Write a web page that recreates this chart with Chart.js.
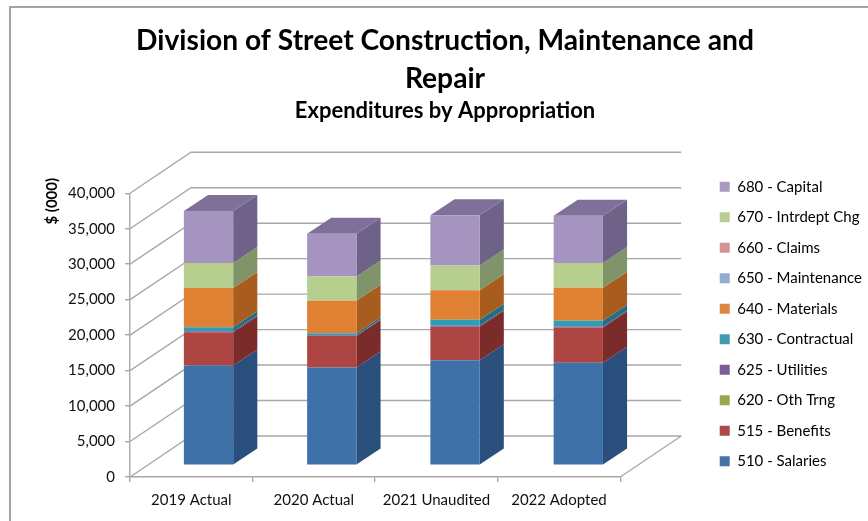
<!DOCTYPE html>
<html>
<head>
<meta charset="utf-8">
<title>Expenditures by Appropriation</title>
<script src="https://cdn.jsdelivr.net/npm/chart.js@4"></script>
<style>
  html, body { margin: 0; padding: 0; background: #fff; overflow: hidden; }
  #frame { position: absolute; left: 9px; top: 6px; width: 868px; height: 521px;
           border-top: 2px solid #a3a3a3; border-left: 2px solid #a3a3a3; }
  #chart { position: absolute; left: 18px; top: 0; }
</style>
</head>
<body>
<div id="frame"></div>
<canvas id="chart" width="857" height="521"></canvas>
<script>
'use strict';
/* global Chart */

// ─── Data ($ thousands) ───────────────────────────────────────────────────────
const categories = ['2019 Actual', '2020 Actual', '2021 Unaudited', '2022 Adopted'];

const salaries    = [14060, 13780, 14800, 14440];
const benefits    = [4700, 4440, 4720, 4990];
const othTrng     = [10, 10, 10, 10];
const utilities   = [120, 100, 130, 130];
const contractual = [570, 290, 840, 800];
const materials   = [5540, 4590, 4160, 4670];
const maintenance = [0, 0, 0, 0];
const claims      = [0, 0, 0, 0];
const intrdeptChg = [3500, 3400, 3500, 3460];
const capital     = [7330, 6030, 7100, 6690];

const yTicks = [0, 5000, 10000, 15000, 20000, 25000, 30000, 35000, 40000];

// ─── 3-D look ─────────────────────────────────────────────────────────────────
const WALL_DX = 61,  WALL_DY = 41;     // depth of the whole plot box
const BAR_DX  = 24,  BAR_DY  = 16;     // depth of one column
const FRONT_DX = 17.25, FRONT_DY = 11.7; // column front sits this far behind the axis
const STRETCH = 1.0057;                // columns spread a little wider than the ticks
const LEGEND_SHIFT = 56;               // legend sits lower than Chart.js would put it
const GRID = '#a8a8a8';

const series = [
  { label: '510 - Salaries',      data: salaries,    front: '#3f71a9', legend: '#4572a7', side: '#2b4f7d', top: '#2b4f7d' },
  { label: '515 - Benefits',      data: benefits,    front: '#ad4542', legend: '#ac4a47', side: '#7a2b2a', top: '#7a2b2a' },
  { label: '620 - Oth Trng',      data: othTrng,     front: '#93ab4e', legend: '#93ab4e', side: '#687a35', top: '#687a35' },
  { label: '625 - Utilities',     data: utilities,   front: '#7b5c97', legend: '#7b5c97', side: '#57406c', top: '#57406c' },
  { label: '630 - Contractual',   data: contractual, front: '#2f9db8', legend: '#4299b1', side: '#1f6f86', top: '#1f6f86' },
  { label: '640 - Materials',     data: materials,   front: '#e08032', legend: '#de8544', side: '#a85c1e', top: '#a85c1e' },
  { label: '650 - Maintenance',   data: maintenance, front: '#95abd0', legend: '#95abd0', side: '#6b7c99', top: '#6b7c99' },
  { label: '660 - Claims',        data: claims,      front: '#cf9593', legend: '#cf9593', side: '#966b6a', top: '#966b6a' },
  { label: '670 - Intrdept Chg',  data: intrdeptChg, front: '#b6cf8e', legend: '#b9cd96', side: '#7f9468', top: '#7f9468' },
  { label: '680 - Capital',       data: capital,     front: '#a594bf', legend: '#a99bbd', side: '#6e6288', top: '#7e7098' },
];

// Move drawing from the axis plane to the plane of the column fronts.
function toFrontPlane(chart) {
  const ctx = chart.ctx;
  const x0 = chart.scales.x.getPixelForValue(0);
  ctx.translate(x0 + FRONT_DX, -FRONT_DY);
  ctx.scale(STRETCH, 1);
  ctx.translate(-x0, 0);
}

const box3d = {
  id: 'box3d',
  afterLayout(chart) {
    chart.legend.top += LEGEND_SHIFT;
    chart.legend.bottom += LEGEND_SHIFT;
  },
  beforeDatasetsDraw(chart) {
    const { ctx, scales: { x, y } } = chart;
    const left = x.left, right = x.right, base = y.getPixelForValue(0);

    // walls: one line per y tick, left wall then back wall
    ctx.save();
    ctx.strokeStyle = GRID;
    ctx.lineWidth = 1.4;
    yTicks.forEach((t) => {
      const py = y.getPixelForValue(t);
      ctx.beginPath();
      ctx.moveTo(left, py);
      ctx.lineTo(left + WALL_DX, py - WALL_DY);
      ctx.lineTo(right + WALL_DX, py - WALL_DY);
      ctx.stroke();
    });
    // right edge of the floor
    ctx.beginPath();
    ctx.moveTo(right, base);
    ctx.lineTo(right + WALL_DX, base - WALL_DY);
    ctx.stroke();

    // column sides and top
    toFrontPlane(chart);
    chart.data.datasets.forEach((ds, di) => {
      const meta = chart.getDatasetMeta(di);
      meta.data.forEach((bar, i) => {
        if (ds.data[i] <= 0) return;
        const r = bar.x + bar.width / 2;
        ctx.fillStyle = series[di].side;
        ctx.beginPath();
        ctx.moveTo(r, bar.y);
        ctx.lineTo(r, bar.base);
        ctx.lineTo(r + BAR_DX, bar.base - BAR_DY);
        ctx.lineTo(r + BAR_DX, bar.y - BAR_DY);
        ctx.closePath();
        ctx.fill();
        if (di === chart.data.datasets.length - 1) {
          const l = bar.x - bar.width / 2;
          ctx.fillStyle = series[di].top;
          ctx.beginPath();
          ctx.moveTo(l, bar.y);
          ctx.lineTo(r, bar.y);
          ctx.lineTo(r + BAR_DX, bar.y - BAR_DY);
          ctx.lineTo(l + BAR_DX, bar.y - BAR_DY);
          ctx.closePath();
          ctx.fill();
        }
      });
    });
    ctx.restore();
  },
  beforeDatasetDraw(chart) {
    chart.ctx.save();
    toFrontPlane(chart);
  },
  afterDatasetDraw(chart) {
    chart.ctx.restore();
  },
  afterDraw(chart) {
    // the axis title sits beside the top of the axis, not at its middle
    const { ctx, scales: { y } } = chart;
    ctx.save();
    ctx.translate(34, y.getPixelForValue(40000) + 8);
    ctx.rotate(-Math.PI / 2);
    ctx.font = 'bold 15px Lato';
    ctx.fillStyle = '#000';
    ctx.textAlign = 'center';
    ctx.textBaseline = 'middle';
    ctx.fillText('$ (000)', 0, 0);
    ctx.restore();
  },
};

// ─── Chart ────────────────────────────────────────────────────────────────────
Chart.defaults.font.family = 'Lato';
Chart.defaults.color = '#000';

new Chart(document.getElementById('chart'), {
  type: 'bar',
  data: {
    labels: categories,
    datasets: series.map((s) => ({
      label: s.label,
      data: s.data,
      backgroundColor: s.front,
      borderWidth: 0,
      stack: 'all',
      barPercentage: 0.4,
      categoryPercentage: 1,
    })),
  },
  options: {
    responsive: false,
    animation: false,
    layout: { padding: { top: 22, left: 0, right: 3, bottom: 7 } },
    plugins: {
      title: {
        display: true,
        text: ['Division of Street Construction, Maintenance and', 'Repair'],
        font: { size: 28.2, weight: 'bold', lineHeight: 1.35 },
        color: '#000',
        padding: { top: 0, bottom: 0 },
      },
      subtitle: {
        display: true,
        text: 'Expenditures by Appropriation',
        font: { size: 22, weight: 'bold', lineHeight: 1.2 },
        color: '#000',
        padding: { top: 0, bottom: 68.7 },
      },
      legend: {
        position: 'right',
        reverse: true,
        maxWidth: 200,
        labels: {
          boxWidth: 10,
          boxHeight: 10,
          padding: 15.5,
          font: { size: 15 },
          color: '#111',
          generateLabels() {
            return series.map((s, i) => ({
              text: s.label, fillStyle: s.legend, strokeStyle: s.legend,
              lineWidth: 0, datasetIndex: i, hidden: false,
            }));
          },
        },
      },
      tooltip: { enabled: false },
    },
    scales: {
      x: {
        stacked: true,
        grid: { drawOnChartArea: false, drawTicks: true, tickLength: 5, color: GRID, lineWidth: 1.4 },
        border: { display: true, color: GRID, width: 1.4 },
        ticks: { font: { size: 15 }, color: '#111', padding: 9, maxRotation: 0 },
        afterFit(s) { s.height = 37; },
      },
      y: {
        stacked: true,
        min: 0,
        max: 40000,
        grid: { drawOnChartArea: false, drawTicks: true, tickLength: 5, color: GRID, lineWidth: 1.4 },
        border: { display: true, color: GRID, width: 1.4 },
        afterBuildTicks(s) { s.ticks = yTicks.map((v) => ({ value: v })); },
        ticks: { font: { size: 15 }, color: '#111', padding: 10, callback: (v) => v.toLocaleString('en-US') },
        afterFit(s) { s.width = 112; },
      },
      // empty axis: keeps the room right of the plot where the 3-D depth is drawn
      depth: {
        type: 'linear',
        position: 'right',
        display: true,
        grid: { display: false },
        border: { display: false },
        ticks: { display: false },
        afterFit(s) { s.width = 84; },
      },
    },
  },
  plugins: [box3d],
});
</script>
</body>
</html>
